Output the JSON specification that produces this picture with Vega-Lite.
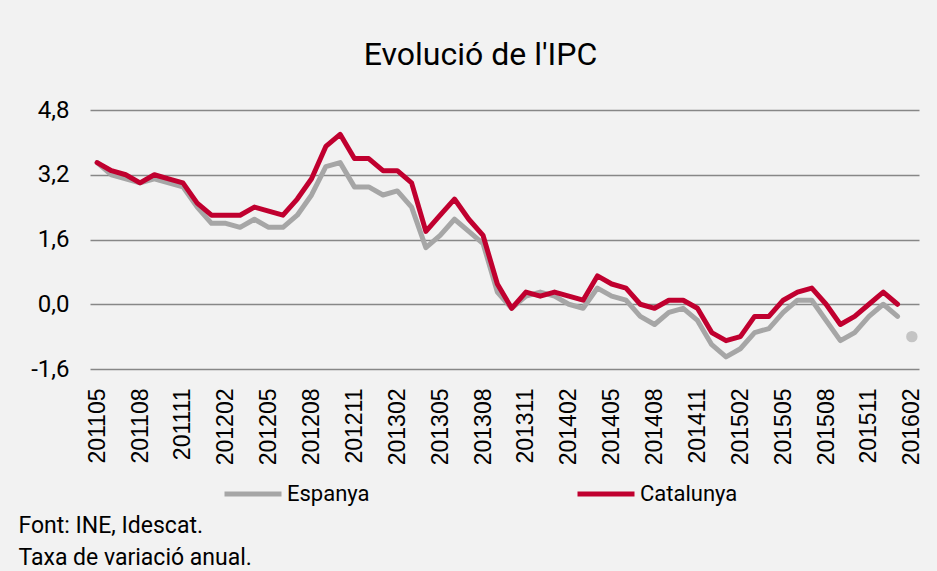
{
  "$schema": "https://vega.github.io/schema/vega-lite/v6.json",
  "width": 829,
  "height": 259,
  "autosize": {"type": "none"},
  "padding": {"left": 90, "top": 110, "right": 18, "bottom": 202},
  "background": "#f2f2f2",
  "title": {
    "text": "Evolució de l'IPC",
    "font": "Liberation Sans Narrow, Roboto, sans-serif",
    "fontSize": 32,
    "fontWeight": "normal",
    "color": "#000000",
    "anchor": "middle",
    "dx": -24,
    "baseline": "alphabetic",
    "offset": 1
  },
  "datasets": {
    "ipc": [
      {"mes": "201105", "Espanya": 3.5, "Catalunya": 3.5},
      {"mes": "201106", "Espanya": 3.2, "Catalunya": 3.3},
      {"mes": "201107", "Espanya": 3.1, "Catalunya": 3.2},
      {"mes": "201108", "Espanya": 3.0, "Catalunya": 3.0},
      {"mes": "201109", "Espanya": 3.1, "Catalunya": 3.2},
      {"mes": "201110", "Espanya": 3.0, "Catalunya": 3.1},
      {"mes": "201111", "Espanya": 2.9, "Catalunya": 3.0},
      {"mes": "201112", "Espanya": 2.4, "Catalunya": 2.5},
      {"mes": "201201", "Espanya": 2.0, "Catalunya": 2.2},
      {"mes": "201202", "Espanya": 2.0, "Catalunya": 2.2},
      {"mes": "201203", "Espanya": 1.9, "Catalunya": 2.2},
      {"mes": "201204", "Espanya": 2.1, "Catalunya": 2.4},
      {"mes": "201205", "Espanya": 1.9, "Catalunya": 2.3},
      {"mes": "201206", "Espanya": 1.9, "Catalunya": 2.2},
      {"mes": "201207", "Espanya": 2.2, "Catalunya": 2.6},
      {"mes": "201208", "Espanya": 2.7, "Catalunya": 3.1},
      {"mes": "201209", "Espanya": 3.4, "Catalunya": 3.9},
      {"mes": "201210", "Espanya": 3.5, "Catalunya": 4.2},
      {"mes": "201211", "Espanya": 2.9, "Catalunya": 3.6},
      {"mes": "201212", "Espanya": 2.9, "Catalunya": 3.6},
      {"mes": "201301", "Espanya": 2.7, "Catalunya": 3.3},
      {"mes": "201302", "Espanya": 2.8, "Catalunya": 3.3},
      {"mes": "201303", "Espanya": 2.4, "Catalunya": 3.0},
      {"mes": "201304", "Espanya": 1.4, "Catalunya": 1.8},
      {"mes": "201305", "Espanya": 1.7, "Catalunya": 2.2},
      {"mes": "201306", "Espanya": 2.1, "Catalunya": 2.6},
      {"mes": "201307", "Espanya": 1.8, "Catalunya": 2.1},
      {"mes": "201308", "Espanya": 1.5, "Catalunya": 1.7},
      {"mes": "201309", "Espanya": 0.3, "Catalunya": 0.5},
      {"mes": "201310", "Espanya": -0.1, "Catalunya": -0.1},
      {"mes": "201311", "Espanya": 0.2, "Catalunya": 0.3},
      {"mes": "201312", "Espanya": 0.3, "Catalunya": 0.2},
      {"mes": "201401", "Espanya": 0.2, "Catalunya": 0.3},
      {"mes": "201402", "Espanya": 0.0, "Catalunya": 0.2},
      {"mes": "201403", "Espanya": -0.1, "Catalunya": 0.1},
      {"mes": "201404", "Espanya": 0.4, "Catalunya": 0.7},
      {"mes": "201405", "Espanya": 0.2, "Catalunya": 0.5},
      {"mes": "201406", "Espanya": 0.1, "Catalunya": 0.4},
      {"mes": "201407", "Espanya": -0.3, "Catalunya": 0.0},
      {"mes": "201408", "Espanya": -0.5, "Catalunya": -0.1},
      {"mes": "201409", "Espanya": -0.2, "Catalunya": 0.1},
      {"mes": "201410", "Espanya": -0.1, "Catalunya": 0.1},
      {"mes": "201411", "Espanya": -0.4, "Catalunya": -0.1},
      {"mes": "201412", "Espanya": -1.0, "Catalunya": -0.7},
      {"mes": "201501", "Espanya": -1.3, "Catalunya": -0.9},
      {"mes": "201502", "Espanya": -1.1, "Catalunya": -0.8},
      {"mes": "201503", "Espanya": -0.7, "Catalunya": -0.3},
      {"mes": "201504", "Espanya": -0.6, "Catalunya": -0.3},
      {"mes": "201505", "Espanya": -0.2, "Catalunya": 0.1},
      {"mes": "201506", "Espanya": 0.1, "Catalunya": 0.3},
      {"mes": "201507", "Espanya": 0.1, "Catalunya": 0.4},
      {"mes": "201508", "Espanya": -0.4, "Catalunya": 0.0},
      {"mes": "201509", "Espanya": -0.9, "Catalunya": -0.5},
      {"mes": "201510", "Espanya": -0.7, "Catalunya": -0.3},
      {"mes": "201511", "Espanya": -0.3, "Catalunya": 0.0},
      {"mes": "201512", "Espanya": 0.0, "Catalunya": 0.3},
      {"mes": "201601", "Espanya": -0.3, "Catalunya": 0.0}
    ],
    "avanc": [
      {"mes": "201602", "Espanya": -0.8}
    ]
  },
  "encoding": {
    "x": {
      "field": "mes",
      "type": "ordinal",
      "scale": {"type": "point", "padding": 0.5},
      "axis": {
        "values": ["201105","201108","201111","201202","201205","201208","201211","201302","201305","201308","201311","201402","201405","201408","201411","201502","201505","201508","201511","201602"],
        "labelAngle": -90,
        "labelAlign": "right",
        "labelBaseline": "middle",
        "labelFont": "Liberation Sans, Arial, sans-serif",
        "labelFontSize": 23,
        "labelColor": "#000000",
        "labelPadding": 19,
        "labelOverlap": false,
        "ticks": false,
        "domain": false,
        "grid": false,
        "title": ["Font: INE, Idescat.", "Taxa de variació anual."],
        "titleFont": "Liberation Sans Narrow, Roboto, sans-serif",
        "titleFontSize": 23,
        "titleFontWeight": "normal",
        "titleColor": "#000000",
        "titleAlign": "left",
        "titleAnchor": "start",
        "titleAngle": 0,
        "titleBaseline": "alphabetic",
        "titleLineHeight": 32,
        "titleX": -72,
        "titleY": 163
      }
    }
  },
  "layer": [
    {
      "data": {"name": "ipc"},
      "transform": [{"fold": ["Espanya"], "as": ["serie", "valor"]}],
      "mark": {"type": "line", "strokeWidth": 5, "strokeJoin": "round", "strokeCap": "round"},
      "encoding": {
        "y": {
          "field": "valor",
          "type": "quantitative",
          "scale": {"domain": [-1.6, 4.8], "nice": false, "zero": false},
          "axis": {
            "values": [-1.6, 0, 1.6, 3.2, 4.8],
            "labelExpr": "replace(replace(format(datum.value, '.1f'), '.', ','), '−', '-')",
            "labelFont": "Liberation Sans Narrow, Roboto, sans-serif",
            "labelFontSize": 24,
            "labelColor": "#000000",
            "labelPadding": 21,
            "ticks": false,
            "domain": false,
            "grid": true,
            "gridColor": "#878787",
            "gridWidth": 1.5,
            "title": null
          }
        },
        "color": {
          "field": "serie",
          "type": "nominal",
          "scale": {"domain": ["Espanya", "Catalunya"], "range": ["#a6a6a6", "#c0002f"]},
          "legend": {
            "title": null,
            "orient": "none",
            "direction": "horizontal",
            "legendX": 132,
            "legendY": 353,
            "symbolType": "stroke",
            "symbolSize": 3249,
            "symbolStrokeWidth": 5,
            "labelFont": "Liberation Sans Narrow, Roboto, sans-serif",
            "labelFontSize": 22,
            "labelColor": "#000000",
            "labelOffset": 3,
            "columnPadding": 197
          }
        }
      }
    },
    {
      "data": {"name": "ipc"},
      "transform": [{"fold": ["Catalunya"], "as": ["serie", "valor"]}],
      "mark": {"type": "line", "strokeWidth": 5, "strokeJoin": "round", "strokeCap": "round"},
      "encoding": {
        "y": {"field": "valor", "type": "quantitative"},
        "color": {"field": "serie", "type": "nominal"}
      }
    },
    {
      "data": {"name": "avanc"},
      "mark": {"type": "point", "filled": true, "size": 130, "color": "#c4c4c4", "opacity": 1},
      "encoding": {
        "y": {"field": "Espanya", "type": "quantitative"}
      }
    }
  ],
  "config": {
    "view": {"stroke": null}
  }
}
